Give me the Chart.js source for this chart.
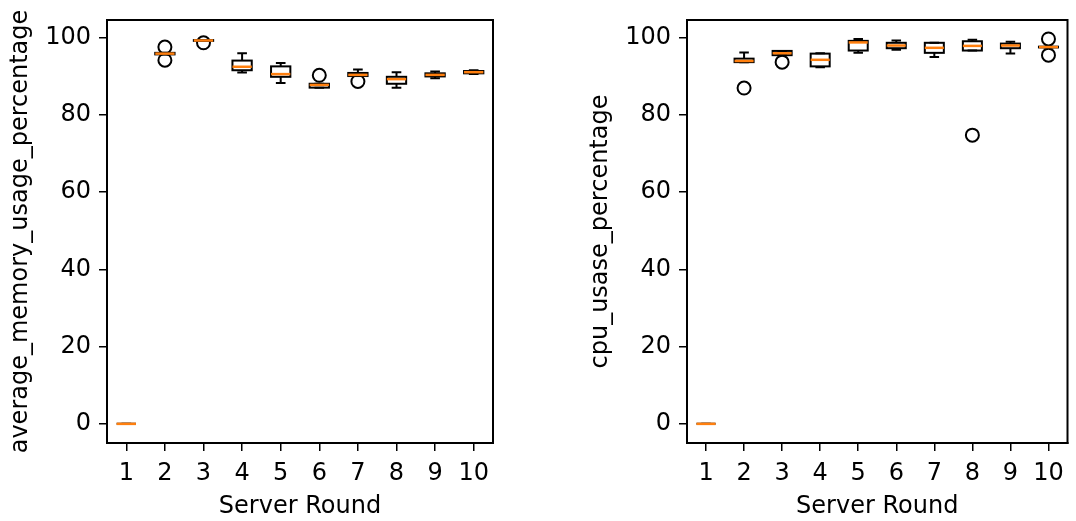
<!DOCTYPE html>
<html>
<head>
<meta charset="utf-8">
<script src="https://cdn.jsdelivr.net/npm/chart.js@4"></script>
<style>
  body { margin: 0; background: #fff; }
  #wrap { position: relative; width: 1076px; height: 521px; }
  canvas { position: absolute; top: 0; }
</style>
</head>
<body>
<div id="wrap">
  <canvas id="memChart" width="540" height="521" style="left:0px"></canvas>
  <canvas id="cpuChart" width="536" height="521" style="left:540px"></canvas>
</div>
<script>
// server rounds on the x axis
const rounds = [1, 2, 3, 4, 5, 6, 7, 8, 9, 10]
const yTicks = [0, 20, 40, 60, 80, 100]

// memory boxes (whisker low, q1, median, q3, whisker high)
const memLo  = [0, 95.6, 99.1, 90.9, 88.2, 87.0, 90.0, 87.0, 89.4, 90.5]
const memQ1  = [0, 95.6, 99.1, 91.5, 89.8, 87.0, 90.0, 88.0, 89.9, 90.7]
const memMed = [0, 95.8, 99.2, 92.4, 90.5, 87.7, 90.3, 89.2, 90.3, 91.0]
const memQ3  = [0, 96.0, 99.3, 94.0, 92.5, 88.0, 90.8, 89.8, 90.7, 91.3]
const memHi  = [0, 96.0, 99.3, 95.9, 93.4, 88.0, 91.7, 91.0, 91.2, 91.5]
const memOutliers = [[2, 97.5], [2, 94.1], [3, 98.6], [6, 90.2], [7, 88.6]]

// cpu boxes
const cpuLo  = [0, 93.6, 95.4, 92.3, 96.0, 96.8, 94.9, 96.6, 95.8, 97.4]
const cpuQ1  = [0, 93.6, 95.4, 92.5, 96.6, 97.2, 96.0, 96.6, 97.2, 97.4]
const cpuMed = [0, 93.9, 95.9, 94.2, 98.7, 97.9, 97.3, 97.8, 97.9, 97.5]
const cpuQ3  = [0, 94.5, 96.5, 95.8, 99.1, 98.6, 98.6, 99.0, 98.4, 97.6]
const cpuHi  = [0, 96.1, 96.5, 95.9, 99.6, 99.2, 98.6, 99.4, 98.9, 97.6]
const cpuOutliers = [[2, 86.9], [3, 93.6], [8, 74.7], [10, 99.6], [10, 95.4]]

Chart.defaults.font.family = 'DejaVu Sans'
Chart.defaults.color = '#000'

function boxPlugin(lo, q1, med, q3, hi){
    return {
        id: 'boxes',
        afterDatasetsDraw(chart){
            const ctx = chart.ctx
            const xs = chart.scales.x
            const ys = chart.scales.y
            ctx.save()
            for (let i = 0; i < rounds.length; i++){
                const r = rounds[i]
                const xl = xs.getPixelForValue(r - 0.25)
                const xr = xs.getPixelForValue(r + 0.25)
                const cl = xs.getPixelForValue(r - 0.125)
                const cr = xs.getPixelForValue(r + 0.125)
                const xc = xs.getPixelForValue(r)
                ctx.strokeStyle = '#000'
                ctx.lineWidth = 2
                // whiskers
                ctx.beginPath()
                ctx.moveTo(xc, ys.getPixelForValue(q1[i]))
                ctx.lineTo(xc, ys.getPixelForValue(lo[i]))
                ctx.moveTo(xc, ys.getPixelForValue(q3[i]))
                ctx.lineTo(xc, ys.getPixelForValue(hi[i]))
                ctx.moveTo(cl, ys.getPixelForValue(lo[i]))
                ctx.lineTo(cr, ys.getPixelForValue(lo[i]))
                ctx.moveTo(cl, ys.getPixelForValue(hi[i]))
                ctx.lineTo(cr, ys.getPixelForValue(hi[i]))
                ctx.stroke()
                // box
                const yt = ys.getPixelForValue(q3[i])
                const yb = ys.getPixelForValue(q1[i])
                ctx.strokeRect(xl, yt, xr - xl, yb - yt)
                // median
                ctx.strokeStyle = '#ff7f0e'
                ctx.lineWidth = 2.5
                ctx.beginPath()
                ctx.moveTo(xl, ys.getPixelForValue(med[i]))
                ctx.lineTo(xr, ys.getPixelForValue(med[i]))
                ctx.stroke()
            }
            ctx.restore()
        },
        afterDraw(chart){
            const a = chart.chartArea
            const ctx = chart.ctx
            ctx.save()
            ctx.strokeStyle = '#000'
            ctx.lineWidth = 2
            ctx.strokeRect(a.left, a.top, a.right - a.left, a.bottom - a.top)
            ctx.restore()
        }
    }
}

function makeChart(id, title, outliers, plugin, padding){
    return new Chart(document.getElementById(id), {
        type: 'scatter',
        data: {
            datasets: [{
                data: outliers.map(p => ({x: p[0], y: p[1]})),
                pointRadius: 6.5,
                pointHoverRadius: 6.5,
                borderWidth: 2,
                borderColor: '#000',
                backgroundColor: 'rgba(0,0,0,0)'
            }]
        },
        options: {
            responsive: false,
            animation: false,
            events: [],
            layout: { padding: padding },
            plugins: { legend: { display: false }, tooltip: { enabled: false } },
            scales: {
                x: {
                    type: 'linear',
                    min: 0.5,
                    max: 10.5,
                    afterBuildTicks: (s) => { s.ticks = rounds.map(v => ({value: v})) },
                    afterFit: (s) => { s.height = 78; s.paddingLeft = 0; s.paddingRight = 0 },
                    ticks: { font: { size: 24 }, color: '#000', padding: 8 },
                    grid: { drawOnChartArea: false, tickLength: 8, color: '#000', lineWidth: 1.5 },
                    border: { color: '#000', width: 2 },
                    title: { display: true, text: 'Server Round', font: { size: 24 }, color: '#000', padding: 0 }
                },
                y: {
                    min: -4.95,
                    max: 104.5,
                    afterBuildTicks: (s) => { s.ticks = yTicks.map(v => ({value: v})) },
                    afterFit: (s) => { s.width = 101; s.paddingTop = 0; s.paddingBottom = 0 },
                    ticks: { font: { size: 24 }, color: '#000', padding: 8 },
                    grid: { drawOnChartArea: false, tickLength: 8, color: '#000', lineWidth: 1.5 },
                    border: { color: '#000', width: 2 },
                    title: { display: true, text: title, font: { size: 24 }, color: '#000', padding: 0 }
                }
            }
        },
        plugins: [plugin]
    })
}

makeChart('memChart', 'average_memory_usage_percentage', memOutliers,
    boxPlugin(memLo, memQ1, memMed, memQ3, memHi), {left: 6, top: 20, right: 47, bottom: 0})
makeChart('cpuChart', 'cpu_usase_percentage', cpuOutliers,
    boxPlugin(cpuLo, cpuQ1, cpuMed, cpuQ3, cpuHi), {left: 46, top: 20, right: 3, bottom: 0})
</script>
</body>
</html>
